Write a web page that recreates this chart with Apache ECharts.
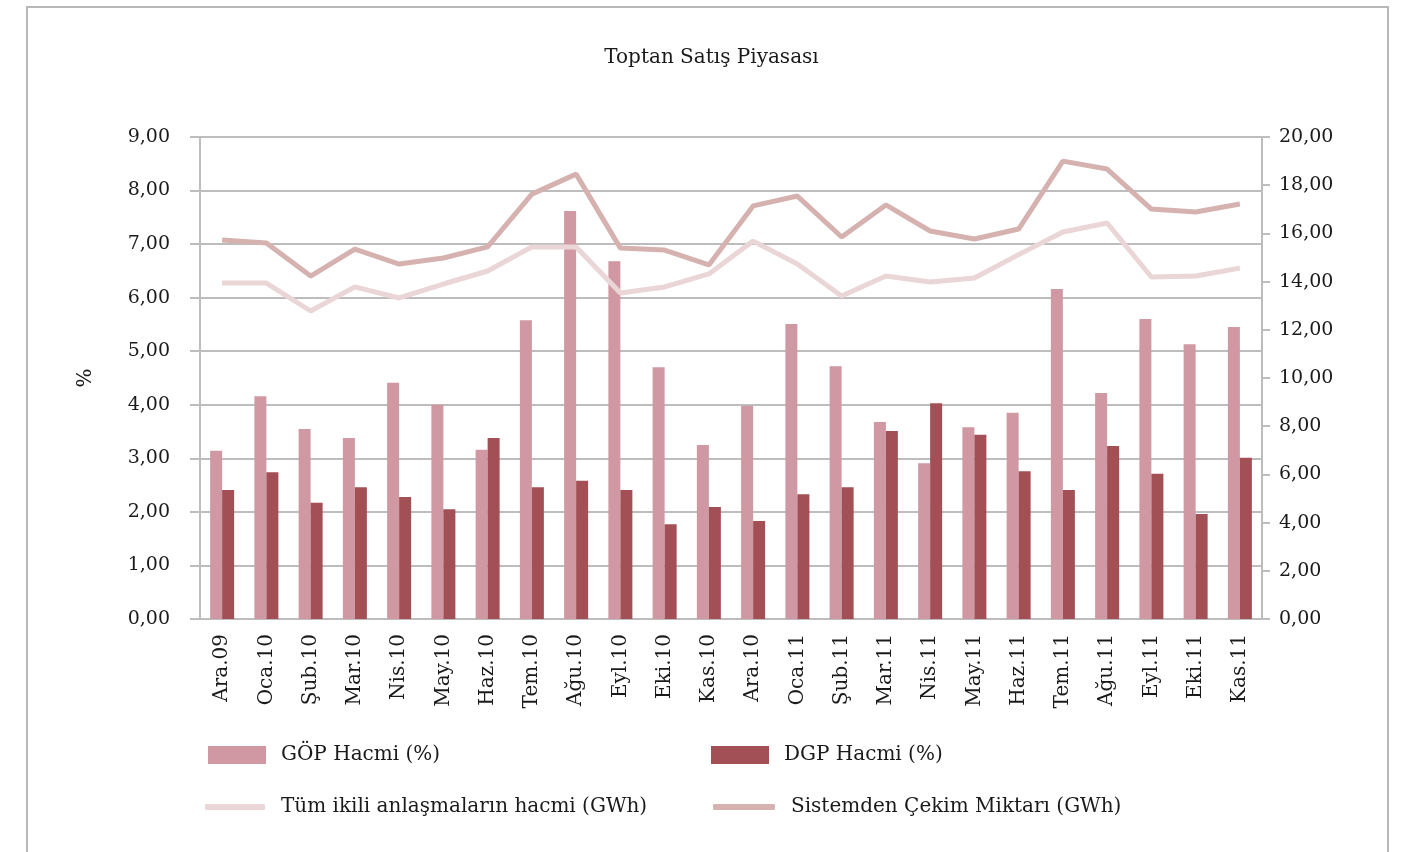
<!DOCTYPE html>
<html>
<head>
<meta charset="utf-8">
<script src="https://cdn.jsdelivr.net/npm/echarts@6/dist/echarts.min.js"></script>
<style>
  html, body { margin: 0; padding: 0; background: #fff; }
  #chart { width: 1423px; height: 852px; }
</style>
</head>
<body>
<div id="chart"></div>
<script>
const months = ['Ara.09', 'Oca.10', 'Şub.10', 'Mar.10', 'Nis.10', 'May.10', 'Haz.10', 'Tem.10',
  'Ağu.10', 'Eyl.10', 'Eki.10', 'Kas.10', 'Ara.10', 'Oca.11', 'Şub.11', 'Mar.11', 'Nis.11',
  'May.11', 'Haz.11', 'Tem.11', 'Ağu.11', 'Eyl.11', 'Eki.11', 'Kas.11'];

// left axis (%)
const gopHacmi = [3.14, 4.16, 3.55, 3.38, 4.41, 4.00, 3.16, 5.58, 7.62, 6.68, 4.70, 3.25,
  3.98, 5.51, 4.72, 3.68, 2.91, 3.58, 3.85, 6.16, 4.22, 5.60, 5.13, 5.45];
const dgpHacmi = [2.41, 2.74, 2.17, 2.46, 2.28, 2.05, 3.38, 2.46, 2.58, 2.41, 1.77, 2.09,
  1.83, 2.33, 2.46, 3.51, 4.03, 3.44, 2.76, 2.41, 3.23, 2.71, 1.96, 3.01];

// right axis (GWh)
const ikiliHacim = [13.94, 13.94, 12.78, 13.78, 13.32, 13.90, 14.44, 15.44, 15.44, 13.53, 13.78, 14.32,
  15.68, 14.73, 13.40, 14.23, 13.98, 14.15, 15.12, 16.06, 16.43, 14.19, 14.23, 14.56];
const cekimMiktari = [15.73, 15.60, 14.23, 15.35, 14.73, 14.98, 15.44, 17.63, 18.46, 15.39, 15.31, 14.69,
  17.14, 17.55, 15.85, 17.18, 16.10, 15.77, 16.18, 19.00, 18.67, 17.01, 16.89, 17.22];

const FONT = 'DejaVu Serif';
const gridColor = '#bdbdbd';
const textColor = '#1a1a1a';
const fmt = v => v.toFixed(2).replace('.', ',');

const chart = echarts.init(document.getElementById('chart'));

const legendText = { fontFamily: FONT, fontSize: 20, color: textColor, padding: [0, 0, 0, 10] };

chart.setOption({
  animation: false,
  title: {
    text: 'Toptan Satış Piyasası',
    left: 'center',
    top: 43,
    textStyle: { fontFamily: FONT, fontSize: 20, fontWeight: 'normal', color: textColor }
  },
  graphic: [{
    type: 'rect',
    shape: { x: 27, y: 7, width: 1361, height: 900 },
    style: { fill: 'none', stroke: '#b8b8b8', lineWidth: 2 },
    silent: true
  }],
  legend: [
    { data: [{ name: 'GÖP Hacmi (%)', icon: 'rect' }], left: 208, top: 745, padding: 0, itemWidth: 58, itemHeight: 18, textStyle: legendText },
    { data: [{ name: 'DGP Hacmi (%)', icon: 'rect' }], left: 711, top: 745, padding: 0, itemWidth: 58, itemHeight: 18, textStyle: legendText },
    { data: [{ name: 'Tüm ikili anlaşmaların hacmi (GWh)', icon: 'roundRect' }], left: 205, top: 797, padding: 0, itemWidth: 60, itemHeight: 6, textStyle: Object.assign({}, legendText, { padding: [0, 0, 0, 11] }) },
    { data: [{ name: 'Sistemden Çekim Miktarı (GWh)', icon: 'roundRect' }], left: 713, top: 797, padding: 0, itemWidth: 62, itemHeight: 6, textStyle: Object.assign({}, legendText, { padding: [0, 0, 0, 11] }) }
  ],
  grid: { left: 200, right: 161, top: 137, bottom: 233 },
  xAxis: {
    type: 'category',
    data: months,
    axisLine: { lineStyle: { color: gridColor, width: 2 } },
    axisTick: { show: false },
    axisLabel: { rotate: 90, fontFamily: FONT, fontSize: 20, color: textColor, margin: 15 }
  },
  yAxis: [
    {
      type: 'value',
      min: 0, max: 9, interval: 1,
      name: '%',
      nameLocation: 'middle',
      nameGap: 104,
      nameTextStyle: { fontFamily: FONT, fontSize: 20, color: textColor },
      axisLine: { show: true, lineStyle: { color: gridColor, width: 2 } },
      axisTick: { show: true, length: 10, lineStyle: { color: gridColor, width: 2 } },
      splitLine: { lineStyle: { color: gridColor, width: 2 } },
      axisLabel: { formatter: fmt, fontFamily: FONT, fontSize: 19, color: textColor, margin: 30 }
    },
    {
      type: 'value',
      min: 0, max: 20, interval: 2,
      axisLine: { show: true, lineStyle: { color: gridColor, width: 2 } },
      axisTick: { show: true, length: 8, lineStyle: { color: gridColor, width: 2 } },
      splitLine: { show: false },
      axisLabel: { formatter: fmt, fontFamily: FONT, fontSize: 19, color: textColor, margin: 17 }
    }
  ],
  series: [
    {
      name: 'GÖP Hacmi (%)', type: 'bar', data: gopHacmi,
      barWidth: 12, barGap: '0%',
      itemStyle: { color: '#cf98a2' }
    },
    {
      name: 'DGP Hacmi (%)', type: 'bar', data: dgpHacmi,
      barWidth: 12,
      itemStyle: { color: '#a34f56' }
    },
    {
      name: 'Tüm ikili anlaşmaların hacmi (GWh)', type: 'line', yAxisIndex: 1, data: ikiliHacim,
      symbol: 'none', lineStyle: { color: '#ead5d7', width: 5 }, itemStyle: { color: '#ead5d7' }
    },
    {
      name: 'Sistemden Çekim Miktarı (GWh)', type: 'line', yAxisIndex: 1, data: cekimMiktari,
      symbol: 'none', lineStyle: { color: '#d5b2b0', width: 5 }, itemStyle: { color: '#d5b2b0' }
    }
  ]
});
</script>
</body>
</html>
